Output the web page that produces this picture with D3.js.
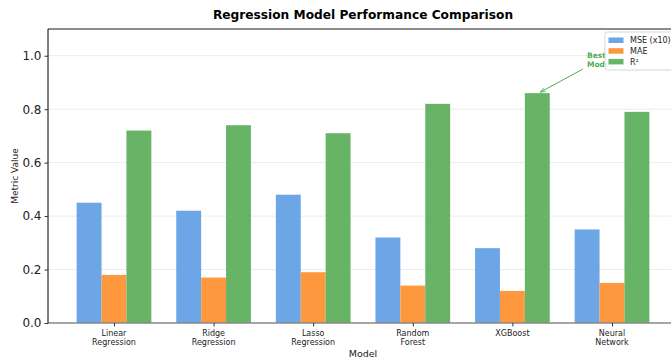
<!DOCTYPE html>
<html><head><meta charset="utf-8">
<script src="https://cdn.jsdelivr.net/npm/d3@7"></script>
<style>body{margin:0;background:#fff}svg{display:block;font-family:"DejaVu Sans",sans-serif}</style>
</head><body><svg id="c" width="671" height="359"></svg>
<script>
const categories = ["Linear\nRegression","Ridge\nRegression","Lasso\nRegression","Random\nForest","XGBoost","Neural\nNetwork"];
const mse10 = [0.45,0.42,0.48,0.32,0.28,0.35];
const mae = [0.18,0.17,0.19,0.14,0.12,0.15];
const r2 = [0.72,0.74,0.71,0.82,0.86,0.79];
const seriesNames = ["MSE (x10)","MAE","R²"];
const yTicks = [0.0,0.2,0.4,0.6,0.8,1.0];
const colors = ["#6ca6e7","#fe983e","#67b467"];
const series = [mse10, mae, r2];

const svg = d3.select("#c");
const L=48, R=678, T=29, B=323;
const x = d3.scaleLinear().domain([-0.6625, categories.length-1+0.6625]).range([L,R]);
const y = d3.scaleLinear().domain([0,1.1]).range([B,T]);
const bw = 0.25;

// grid
svg.append("g").selectAll("line").data(yTicks.slice(1)).join("line")
  .attr("x1",L).attr("x2",R).attr("y1",d=>y(d)).attr("y2",d=>y(d))
  .attr("stroke","#ebebeb").attr("stroke-width",1);

// bars
series.forEach((s,si)=>{
  svg.append("g").selectAll("rect").data(s).join("rect")
    .attr("x",(d,i)=>x(i+(si-1)*bw-bw/2))
    .attr("width",x(bw)-x(0))
    .attr("y",d=>y(d)).attr("height",d=>y(0)-y(d))
    .attr("fill",colors[si]);
});

// spines
svg.append("line").attr("x1",L).attr("x2",R).attr("y1",T).attr("y2",T).attr("stroke","#666").attr("stroke-width",1.5);
svg.append("line").attr("x1",L).attr("x2",R).attr("y1",B).attr("y2",B).attr("stroke","#888").attr("stroke-width",1.6);
svg.append("line").attr("x1",L).attr("x2",L).attr("y1",T).attr("y2",B).attr("stroke","#000").attr("stroke-width",1);

// y axis
const ya = svg.append("g").attr("transform",`translate(${L},0)`)
  .call(d3.axisLeft(y).tickValues(yTicks).tickFormat(d3.format(".1f")).tickSize(3.5).tickPadding(3));
ya.select(".domain").remove();
ya.selectAll("text").attr("font-size",12).attr("fill","#222").attr("font-family","DejaVu Sans");
ya.selectAll("line").attr("stroke","#333");

// x axis
const xa = svg.append("g").attr("transform",`translate(0,${B})`)
  .call(d3.axisBottom(x).tickValues(d3.range(categories.length)).tickSize(3.5).tickFormat(""));
xa.select(".domain").remove();
xa.selectAll("line").attr("stroke","#333");
categories.forEach((c,i)=>{
  const t = svg.append("text").attr("x",x(i)).attr("y",335.5).attr("text-anchor","middle")
    .attr("font-size",8).attr("fill","#222");
  c.split("\n").forEach((ln,k)=>t.append("tspan").attr("x",x(i)).attr("dy",k?9:0).text(ln));
});

// labels
svg.append("text").attr("x",(L+R)/2).attr("y",357).attr("text-anchor","middle").attr("font-size",9.5).attr("fill","#222").text("Model");
svg.append("text").attr("transform",`translate(17.5,${(T+B)/2}) rotate(-90)`).attr("text-anchor","middle").attr("font-size",9).attr("fill","#222").text("Metric Value");
svg.append("text").attr("x",(L+R)/2).attr("y",18.5).attr("text-anchor","middle").attr("font-size",12.2).attr("font-weight","bold").attr("fill","#000").text("Regression Model Performance Comparison");

// annotation
const best = r2.indexOf(d3.max(r2));
const tipX = x(best+bw), tipY = y(r2[best]);
svg.append("defs").append("marker").attr("id","ah").attr("viewBox","0 0 10 10").attr("refX",10).attr("refY",5)
  .attr("markerWidth",5).attr("markerHeight",5).attr("orient","auto")
  .append("path").attr("d","M0,1 L10,5 L0,9").attr("fill","none").attr("stroke","#4caf50").attr("stroke-width",1.5);
svg.append("line").attr("x1",583).attr("y1",69).attr("x2",tipX+3).attr("y2",tipY-1)
  .attr("stroke","#4caf50").attr("stroke-width",1).attr("marker-end","url(#ah)");
const at = svg.append("text").attr("x",587).attr("y",58).attr("font-size",7.5).attr("font-weight","bold").attr("fill","#4caf50");
at.append("tspan").attr("x",587).text("Best");
at.append("tspan").attr("x",587).attr("dy",9).text("Model");

// legend
const lg = svg.append("g").attr("transform","translate(605,32)");
lg.append("rect").attr("width",90).attr("height",38).attr("rx",2.5).attr("fill","#fff").attr("fill-opacity",0.9).attr("stroke","#ccc").attr("stroke-width",0.8);
seriesNames.forEach((n,i)=>{
  lg.append("rect").attr("x",3.5).attr("y",5.5+i*10.7).attr("width",15).attr("height",5.5).attr("fill",colors[i]);
  lg.append("text").attr("x",25).attr("y",11.2+i*10.7).attr("font-size",8).attr("fill","#222").text(n);
});
</script></body></html>
